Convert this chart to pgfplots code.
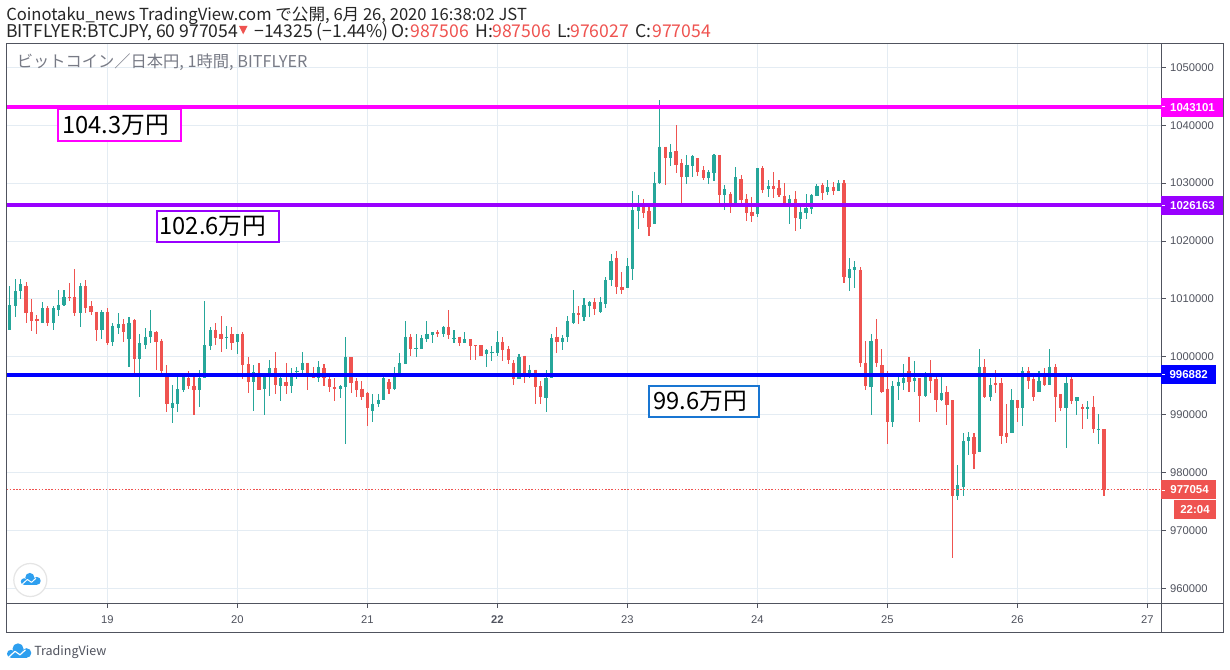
\documentclass[border=0pt]{standalone}
\usepackage{pgfplots}
\usepackage{pgfplotstable}
\usepackage{fontspec}
\pgfplotsset{compat=1.18}
\setmainfont{Liberation Sans}
\newfontfamily\cjk{Noto Sans CJK JP}
\definecolor{cG}{HTML}{26A69A}
\definecolor{cR}{HTML}{EF5350}
\definecolor{cM}{HTML}{FF00FF}
\definecolor{cP}{HTML}{9900FF}
\definecolor{cB}{HTML}{0000FF}
\definecolor{cBox}{HTML}{1976D2}
\definecolor{frame}{HTML}{50535E}
\definecolor{gridc}{HTML}{E4ECF3}
\definecolor{leg}{HTML}{787B86}
\definecolor{tv}{HTML}{2E9FEF}
\pgfplotstableread{
i T B H L
-18 1008900 1004700 1012300 1004700
-17 1011300 1008700 1013400 1006800
-16 1012500 1011300 1013400 1009900
-12 1008400 1005900 1009400 1005800
-10 1008400 1005800 1008700 1004600
-9 1009000 1008000 1011500 1007000
-8 1010300 1008900 1011500 1008700
-5 1012200 1007500 1012800 1005100
-1 1007700 1004600 1008000 1003000
1 1005400 1002500 1005900 1001800
2 1005600 1004900 1007500 1003900
4 1005900 1003000 1006800 998200
6 1002300 999700 1004000 993100
7 1003500 1002100 1004900 1001300
8 1004400 1003500 1008000 1002300
12 992100 991100 995200 988500
13 994400 991900 996800 990400
14 996600 994200 996800 994000
17 996400 994200 997800 991400
18 1002000 996400 1009600 996400
19 1004600 1001800 1005100 1001100
22 1003500 1003200 1005400 1001300
24 1003900 1002500 1003900 1000400
27 997300 995700 998500 990600
29 996800 994500 996800 989900
30 998000 996800 999400 993300
32 996300 994900 996900 992300
34 996800 995000 998000 993800
35 997600 997500 998200 996100
36 999000 997800 1000900 996900
39 998300 996400 999200 995700
43 994900 994400 995200 992800
44 999900 994700 1003500 984900
49 991900 990600 993500 988800
50 992600 991800 993500 991400
51 996300 992500 996800 992500
53 996600 994400 998200 994200
54 999000 996900 1000600 996900
55 1003500 998800 1006100 998800
57 1001600 1001400 1004000 999900
58 1003200 1001400 1003700 1001300
59 1003900 1003000 1006100 1002600
60 1004200 1003700 1004200 1002300
62 1005200 1004000 1005400 1003500
64 1003300 1003200 1004600 1002300
66 1003000 1002300 1004200 1002300
70 1001100 1000400 1001300 998200
71 1000900 1000600 1001800 999200
72 1002500 1000600 1004400 1000200
76 999900 996100 1000400 996100
78 997800 996900 998500 996300
81 996400 992800 997800 990400
82 1003200 996300 1003900 996300
84 1003300 1002600 1003700 1001100
85 1006100 1003500 1007100 1002600
86 1007500 1005900 1011600 1005600
88 1009000 1006900 1010100 1006100
89 1009500 1008800 1009700 1006900
91 1009500 1007800 1010400 1007500
92 1013300 1009200 1013700 1008500
93 1016600 1013200 1017800 1012300
96 1015600 1011800 1017000 1011800
97 1025300 1015100 1028700 1013300
98 1026000 1025100 1027900 1022000
101 1030100 1023000 1032000 1023000
102 1036300 1030100 1044400 1029900
104 1035300 1034400 1036700 1032900
107 1033200 1031000 1034900 1029900
108 1034600 1033000 1034800 1031000
111 1032000 1030800 1032200 1029900
112 1034800 1031800 1035100 1030300
114 1028900 1028000 1029600 1025400
116 1031000 1026300 1032700 1026300
120 1032600 1024700 1032600 1024200
122 1029500 1029000 1030600 1027600
126 1027300 1026400 1028000 1023000
128 1025000 1023800 1026300 1022100
129 1025700 1024900 1028200 1023800
130 1028000 1025600 1028200 1024700
131 1029500 1027800 1029900 1027800
133 1029400 1028500 1030600 1028000
135 1030100 1028700 1030600 1028700
137 1015200 1013600 1017100 1011400
138 1015500 1015000 1016600 1011900
141 1002800 994700 1004000 990000
145 995000 988800 995900 987800
146 995600 994900 996600 992600
147 996400 995400 998700 994200
149 996300 995900 999200 994000
151 996900 993300 997300 993100
154 993700 992500 996900 992300
157 977800 976000 981400 975200
158 985500 977600 986900 975900
159 986100 985400 987100 983100
161 998300 983500 1001300 983500
163 995200 993000 996400 992300
167 992500 986900 994400 986900
169 997500 991100 998300 988000
172 995900 994000 997500 994000
174 998300 995200 1001400 995200
177 995400 991200 996800 984300
179 993000 992300 993100 990000
181 991400 990900 992300 989300
183 987600 987300 990200 984900
}\upT
\pgfplotstableread{
i T B H L
-15 1012300 1007500 1013000 1005900
-14 1007700 1006100 1009900 1004400
-13 1006600 1006100 1007300 1003900
-11 1008400 1005900 1008700 1005400
-7 1010300 1010100 1012700 1009600
-6 1010300 1007500 1015100 1007000
-4 1012200 1008400 1013200 1007500
-3 1008700 1007800 1009700 1007300
-2 1007800 1004600 1007800 1002800
0 1007800 1002300 1008400 1002000
3 1005600 1004200 1006500 1002600
5 1006300 999700 1006500 997100
9 1004200 1002600 1004400 997800
10 1002800 997500 1003000 997100
11 997100 991800 998500 990400
15 996400 994900 997500 994500
16 995000 994200 996800 989900
20 1004700 1003300 1005800 1002000
21 1004000 1003000 1007100 1000900
23 1003900 1002300 1005100 1001100
25 1004000 998500 1004200 996100
26 998700 995600 999900 993700
28 996800 994200 999000 994200
31 998000 995200 1000900 993500
33 995600 995000 999000 993500
37 999000 996800 999000 994200
38 996900 996300 998200 996300
40 998000 996300 998800 995000
41 996100 994700 996900 994000
42 994700 994400 996400 992300
45 999900 995400 999900 993800
46 995900 994200 996400 993000
47 994500 993100 995900 992600
48 993700 991200 994000 988000
52 995600 994400 996100 993500
56 1003500 1001300 1003900 1000200
61 1004200 1004000 1004600 1003500
63 1005200 1003700 1008000 1003000
65 1003500 1002300 1003500 1001800
67 1003000 1001800 1003000 999500
68 1002000 1001800 1002000 999500
69 1002000 1000100 1002000 1000100
73 1002500 1001100 1003500 999200
74 1001400 999400 1001800 998700
75 999000 996100 999500 995200
77 1000200 996900 1000200 995400
79 997800 994700 997800 991900
80 994900 993000 995900 991800
83 1003500 1002500 1005100 1000600
87 1007500 1007300 1008700 1005700
90 1009400 1008200 1010100 1007300
94 1017100 1012000 1018200 1010900
95 1012100 1011600 1014600 1010900
99 1026000 1024900 1027300 1023900
100 1025100 1022500 1026000 1020900
103 1036300 1034400 1036300 1029600
105 1035600 1033200 1040100 1031700
106 1033400 1031000 1034100 1026300
109 1034300 1032000 1034400 1031300
110 1032200 1030800 1032900 1030500
113 1034800 1028000 1034800 1026300
115 1028200 1026500 1028500 1024900
117 1030700 1027100 1031400 1026300
118 1027300 1024900 1028200 1023500
119 1025000 1024400 1027600 1023300
121 1032600 1028800 1033000 1028300
123 1029500 1029000 1032000 1027500
124 1029200 1028000 1030600 1027600
125 1027800 1026400 1030100 1026300
127 1027300 1024000 1028700 1021800
132 1029700 1028300 1030100 1027100
134 1029400 1028700 1030200 1028000
136 1030100 1013800 1030600 1012800
139 1015000 999000 1015500 998300
140 999000 994900 1002800 994200
142 1003000 999000 1006600 998300
143 998500 994000 1001400 993700
144 994500 988800 997600 985000
148 997600 995700 999900 994000
150 996300 993300 996400 988800
152 996900 995900 999500 993700
153 996100 992500 996800 990400
155 994000 991600 994900 988300
156 992500 976000 992600 965200
160 986100 983300 986800 980700
162 998300 993000 999700 992800
164 995400 995200 997800 993800
165 995400 986400 996400 984900
166 986800 986200 991800 985200
168 992500 991200 992500 988800
170 997500 995900 998300 994400
171 996100 993000 996600 992300
173 996800 995200 998000 995000
175 998200 993100 998800 988800
176 993500 991200 993500 990700
178 996100 992300 996800 991900
180 991400 990900 991900 987600
182 991400 987600 993300 986800
184 987506 977054 987506 976027
}\dnT
\newcommand\candles[2]{%
  \addplot[draw=none, mark=none, forget plot, error bars/.cd, y dir=both, y explicit, error mark=none,
    error bar style={solid, draw=#2, line width=0.8pt}]
    table[x=i, y=T, y error plus expr=\thisrow{H}-\thisrow{T}, y error minus expr=\thisrow{T}-\thisrow{L}] {#1};
  \addplot[draw=none, mark=none, forget plot, error bars/.cd, y dir=both, y explicit, error mark=none,
    error bar style={solid, draw=#2, line width=2.4pt}]
    table[x=i, y=T, y error plus expr=0, y error minus expr=\thisrow{T}-\thisrow{B}] {#1};
}
\newcommand\cloud[3]{% x, y, scale (pixel coordinates, 26 wide)
  \begin{scope}[shift={(#1,#2)}, scale=#3]
    \fill[tv] (5,11) circle (4); \fill[tv] (12,6) circle (5.5); \fill[tv] (20.5,10.2) circle (4.8);
    \fill[tv] (5,9) rectangle (20.5,15);
    \draw[white, line width=#3*0.9pt, line join=round] (2.5,14.5) -- (9,8.5) -- (14,12) -- (19.5,7);
  \end{scope}}
\begin{document}
\begin{tikzpicture}
\path[use as bounding box, fill=white] (0,0) rectangle (922.5pt,501.75pt);
\begin{axis}[
  at={(4.875pt,49.125pt)}, anchor=south west, scale only axis,
  width=866.25pt, height=420pt,
  xmin=-18.615, xmax=194.62, ymin=957394, ymax=1054110,
  axis line style={frame, line width=0.75pt},
  clip=true,
  xtick={0,24,...,192},
  xticklabels={19,20,21,\textbf{22},23,24,25,26,27},
  ytick={960000,970000,...,1050000},
  ymajorgrids, xmajorgrids,
  grid style={gridc, line width=0.75pt},
  axis x line*=bottom, axis y line*=right,
  tick align=outside, major tick length=3pt,
  tick style={frame, line width=0.75pt},
  tick label style={font=\fontsize{8.4pt}{10pt}\selectfont, text=frame},
  yticklabel style={/pgf/number format/fixed, /pgf/number format/1000 sep={}, /pgf/number format/assume math mode=true},
  scaled y ticks=false,
  xticklabel style={yshift=-2.6pt},
]
\candles{\upT}{cG}
\candles{\dnT}{cR}
\addplot[cR, line width=0.75pt, dash pattern=on 1.2pt off 1.2pt] coordinates {(-18.615,977054)(194.62,977054)};
\addplot[cB, line width=3pt] coordinates {(-18.615,996882)(194.62,996882)};
\addplot[cP, line width=3pt] coordinates {(-18.615,1026163)(194.62,1026163)};
\addplot[cM, line width=3pt] coordinates {(-18.615,1043101)(194.62,1043101)};
\end{axis}
\begin{scope}[x=0.75pt, y=-0.75pt, yshift=501.75pt]
  % frame
  \draw[frame, line width=0.75pt] (6.5,43.5) rectangle (1223,632.3);
  \draw[frame, line width=0.75pt] (1161.5,43.5) -- (1161.5,632.3);
  \draw[frame, line width=0.75pt] (6.5,603.5) -- (1223,603.5);
  % price tags
  \fill[cM] (1161,98) rectangle (1223,116.8);
  \fill[cP] (1161,196) rectangle (1223,214.8);
  \fill[cB] (1161,365) rectangle (1216,383.7);
  \fill[cR] (1161,480) rectangle (1216,499);
  \fill[cR] (1174,500) rectangle (1216,518.8);
  \foreach \yy in {107,205,374,490} \draw[white, line width=0.75pt] (1161.5,\yy) -- (1165,\yy);
  \begin{scope}[every node/.style={text=white, inner sep=0pt, font=\fontsize{8.6pt}{10pt}\selectfont\bfseries}]
    \node at (1192.5,107.4) {1043101};
    \node at (1192.5,205.4) {1026163};
    \node at (1188.7,374.4) {996882};
    \node at (1189.5,489.5) {977054};
    \node at (1195,509.4) {22:04};
  \end{scope}
  % header
  \begin{scope}[every node/.style={inner sep=0pt, anchor=base west, font=\cjk\fontsize{13.2pt}{15pt}\selectfont, text=black!85}]
    \node[font=\cjk\fontsize{12.45pt}{15pt}\selectfont] at (6,20.7) {Coinotaku\_news TradingView.com で公開, 6月 26, 2020 16:38:02 JST};
    \node at (6,37.3) {BITFLYER:BTCJPY, 60 977054};
    \fill[cR] (239,26) -- (247.5,26) -- (243.2,34.3) -- cycle;
    \node at (254,37.3) {−14325 (−1.44\%)};
    \node at (391,37.3) {O:};
    \node[text=cR] at (410,37.3) {987506};
    \node at (475,37.3) {H:};
    \node[text=cR] at (492,37.3) {987506};
    \node at (557,37.3) {L:};
    \node[text=cR] at (570,37.3) {976027};
    \node at (635,37.3) {C:};
    \node[text=cR] at (652,37.3) {977054};
  \end{scope}
  \node[inner sep=0pt, anchor=base west, text=leg, font=\cjk\fontsize{12.2pt}{14pt}\selectfont] at (16.5,68) {ビットコイン／日本円, 1時間, BITFLYER};
  % annotation boxes
  \begin{scope}[every node/.style={inner sep=0pt, text=black, font=\cjk\fontsize{17.8pt}{20pt}\selectfont}]
    \draw[cM, line width=1.5pt, fill=white] (58,109.5) rectangle (181,141);
    \node at (115.5,125) {104.3万円};
    \draw[cP, line width=1.5pt, fill=white] (156.5,210.5) rectangle (279,241.5);
    \node at (213,226) {102.6万円};
    \draw[cBox, line width=1.5pt, fill=white] (649,386) rectangle (759,417);
    \node at (700,401) {99.6万円};
  \end{scope}
  % logo
  \draw[black!10, line width=0.9pt, fill=white] (30.3,580) circle (16.5);
  \cloud{20}{572.5}{0.82}
  \cloud{6}{642.8}{1}
  \node[inner sep=0pt, anchor=base west, text=frame, font=\cjk\fontsize{9.4pt}{12pt}\selectfont] at (34,655) {TradingView};
\end{scope}
\end{tikzpicture}
\end{document}
